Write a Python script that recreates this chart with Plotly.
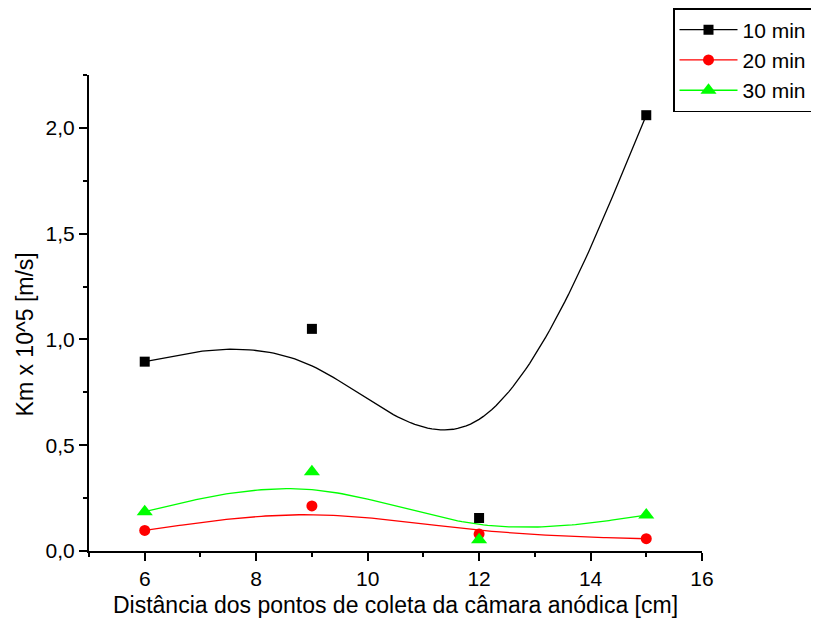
import numpy as np
import plotly.graph_objects as go

# ---- data ----
distance_cm = [6, 9, 12, 15]
km_10min = [0.895, 1.05, 0.156, 2.06]
km_20min = [0.097, 0.213, 0.080, 0.058]
km_30min = [0.186, 0.375, 0.053, 0.170]
series_names = ["10 min", "20 min", "30 min"]
y_tick_values = [0.0, 0.5, 1.0, 1.5, 2.0]
x_tick_values = [6, 8, 10, 12, 14, 16]


def bspline(xs, ys, n=40):
    """Uniform cubic B-spline (Origin 'B-Spline' connection), ends clamped by
    repeating the first/last control points three times."""
    px = [xs[0]] * 2 + list(xs) + [xs[-1]] * 2
    py = [ys[0]] * 2 + list(ys) + [ys[-1]] * 2
    cx, cy = [], []
    t = np.linspace(0, 1, n)
    b0 = (1 - t) ** 3 / 6
    b1 = (3 * t ** 3 - 6 * t ** 2 + 4) / 6
    b2 = (-3 * t ** 3 + 3 * t ** 2 + 3 * t + 1) / 6
    b3 = t ** 3 / 6
    for i in range(len(px) - 3):
        cx.extend(b0 * px[i] + b1 * px[i + 1] + b2 * px[i + 2] + b3 * px[i + 3])
        cy.extend(b0 * py[i] + b1 * py[i + 1] + b2 * py[i + 2] + b3 * py[i + 3])
    return cx, cy


def isolated(vals):
    out = []
    for v in vals:
        out.extend([v, None])
    return out[:-1]


styles = [
    dict(color="#000000", symbol="square", size=10),
    dict(color="#FF0000", symbol="circle", size=11),
    dict(color="#00FF00", symbol="triangle-up", size=14),
]

fig = go.Figure()
all_series = [km_10min, km_20min, km_30min]

for name, ys, st in zip(series_names, all_series, styles):
    cx, cy = bspline(distance_cm, ys)
    fig.add_trace(go.Scatter(x=cx, y=cy, mode="lines", showlegend=False,
                             line=dict(color=st["color"], width=1.3),
                             hoverinfo="skip"))

for name, ys, st in zip(series_names, all_series, styles):
    fig.add_trace(go.Scatter(
        x=isolated(distance_cm), y=isolated(ys), mode="lines+markers", name=name,
        connectgaps=False,
        line=dict(color=st["color"], width=1.3),
        marker=dict(color=st["color"], symbol=st["symbol"], size=st["size"],
                    line=dict(width=0))))

font_family = "Arial, Liberation Sans, sans-serif"

# the page body adds an 8px offset, so the figure is 8px smaller than the window
W, H = 811, 616

fig.update_layout(
    width=W, height=H,
    margin=dict(l=81, r=117, t=67, b=73, autoexpand=False),
    paper_bgcolor="white", plot_bgcolor="white",
    separators=",.",
    font=dict(family=font_family, size=21, color="black"),
    showlegend=True,
    legend=dict(
        xref="container", yref="container",
        x=665 / W, y=1.0, xanchor="left", yanchor="top",
        bordercolor="black", borderwidth=1.5, bgcolor="white",
        font=dict(size=21, family=font_family, color="black"),
        tracegroupgap=0, itemwidth=58,
    ),
    xaxis=dict(
        range=[5, 16], tickvals=x_tick_values, showgrid=False, zeroline=False,
        showline=True, linecolor="black", linewidth=2, automargin=False,
        ticks="outside", ticklen=8, tickwidth=1.5, tickcolor="black",
        tickfont=dict(size=21),
        minor=dict(ticks="outside", ticklen=4, tickwidth=1.5, tickcolor="black", dtick=1, tick0=5),
        title=dict(text="Distância dos pontos de coleta da câmara anódica [cm]",
                   font=dict(size=23), standoff=8),
    ),
    yaxis=dict(
        range=[0, 2.25], tickvals=y_tick_values, tickformat=".1f",
        showgrid=False, zeroline=False, automargin=False,
        showline=True, linecolor="black", linewidth=2,
        ticks="outside", ticklen=8, tickwidth=1.5, tickcolor="black",
        tickfont=dict(size=21),
        minor=dict(ticks="outside", ticklen=4, tickwidth=1.5, tickcolor="black", dtick=0.25, tick0=0),
    ),
    annotations=[dict(
        text="Km x 10^5 [m/s]", textangle=-90, showarrow=False,
        xref="paper", yref="paper", x=0, y=0.455, xanchor="center", yanchor="middle",
        xshift=-64, font=dict(size=23, family=font_family, color="black"),
    )],
)

fig.write_html("out.html")
